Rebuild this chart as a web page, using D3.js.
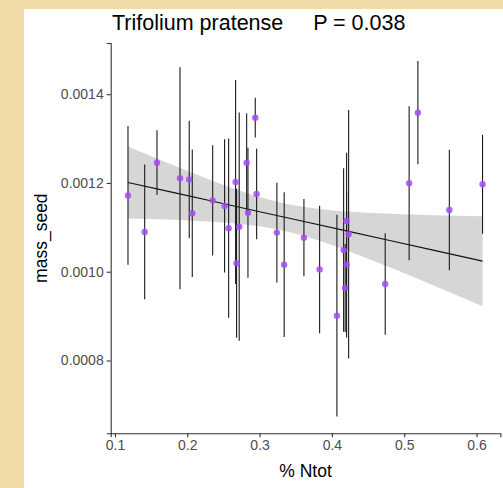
<!DOCTYPE html>
<html>
<head>
<meta charset="utf-8">
<script src="https://cdn.jsdelivr.net/npm/d3@7/dist/d3.min.js"></script>
<style>
  html, body { margin: 0; padding: 0; background: #f1dba9; }
  svg { display: block; }
  text { font-family: "Liberation Sans", Arial, sans-serif; }
</style>
</head>
<body>
<svg id="chart" width="503" height="488"></svg>
<script>
// Total nitrogen (%) per site
const nTot = [0.1180, 0.1411, 0.1581, 0.1899, 0.2027, 0.2069, 0.2351, 0.2516, 0.2572, 0.2668,
              0.2682, 0.2718, 0.2821, 0.2839, 0.2940, 0.2959, 0.3239, 0.3340, 0.3613, 0.3830,
              0.4069, 0.4162, 0.4203, 0.4203, 0.4184, 0.4231, 0.4737, 0.5068, 0.5189, 0.5624, 0.6083];
// Mean seed mass per site
const massSeed = [0.001172, 0.0010896, 0.0012457, 0.0012106, 0.0012079, 0.0011318, 0.0011606, 0.0011482, 0.001098, 0.0012023,
                  0.0010191, 0.0011016, 0.0012457, 0.0011331, 0.0013471, 0.0011752, 0.0010881, 0.001016, 0.0010768, 0.0010052,
                  0.0009011, 0.0010491, 0.0011144, 0.001016, 0.0009635, 0.0010845, 0.0009725, 0.0011993, 0.0013583, 0.0011392, 0.0011971];
// Half-length of each error bar
const massErr = [0.0001565, 0.0001517, 0.0000729, 0.00025, 0.0001324, 0.0001437, 0.0001242, 0.0001501, 0.0002019, 0.0002297,
                 0.0001681, 0.0002571, 0.0001113, 0.0001464, 0.0000446, 0.000102, 0.0001126, 0.000163, 0.000087, 0.0001437,
                 0.0002271, 0.0001843, 0.0001538, 0.0001644, 0.0000991, 0.00028, 0.0001144, 0.0001734, 0.0001163, 0.0001356, 0.0001115];

// Fitted linear trend and its 95% confidence band
const fitX  = [0.118, 0.18, 0.24, 0.30, 0.36, 0.42, 0.48, 0.54, 0.6083];
const fitY  = [0.0012011, 0.0011787, 0.0011570, 0.0011353, 0.0011136, 0.0010920, 0.0010703, 0.0010486, 0.0010239];
const fitLo = [0.0011200, 0.0011171, 0.0011122, 0.0011023, 0.0010811, 0.0010482, 0.0010099, 0.0009696, 0.0009225];
const fitHi = [0.0012822, 0.0012403, 0.0012018, 0.0011685, 0.0011462, 0.0011356, 0.0011306, 0.0011275, 0.0011252];

const xTicks = [0.1, 0.2, 0.3, 0.4, 0.5, 0.6];
const yTicks = [0.0008, 0.0010, 0.0012, 0.0014];
const titleText = "Trifolium pratense     P = 0.038";
const xTitle = "% Ntot";
const yTitle = "mass_seed";

const data = nTot.map((x, i) => ({ x, y: massSeed[i], e: massErr[i] }));
const fit = fitX.map((x, i) => ({ x, y: fitY[i], lo: fitLo[i], hi: fitHi[i] }));

const svg = d3.select("#chart");

// white panel on the textured page
svg.append("rect").attr("x", 24).attr("y", 9).attr("width", 479).attr("height", 479).attr("fill", "#ffffff");

const plot = { left: 110.7, right: 500.4, top: 43, bottom: 433.3 };

const x = d3.scaleLinear().domain([0.0941, 0.633]).range([plot.left, plot.right]);
const y = d3.scaleLinear().domain([0.000636, 0.0015153]).range([plot.bottom, plot.top]);

svg.append("path")
  .datum(fit)
  .attr("d", d3.area().curve(d3.curveNatural).x(d => x(d.x)).y0(d => y(d.lo)).y1(d => y(d.hi)))
  .attr("fill", "#999999").attr("fill-opacity", 0.4);

svg.append("path")
  .datum(fit)
  .attr("d", d3.line().x(d => x(d.x)).y(d => y(d.y)))
  .attr("fill", "none").attr("stroke", "#111").attr("stroke-width", 1.1);

// error bars
svg.append("g").selectAll("line").data(data).join("line")
  .attr("x1", d => x(d.x)).attr("x2", d => x(d.x))
  .attr("y1", d => y(d.y - d.e)).attr("y2", d => y(d.y + d.e))
  .attr("stroke", "#1a1a1a").attr("stroke-width", 1.1);

// points
svg.append("g").selectAll("circle").data(data).join("circle")
  .attr("cx", d => x(d.x)).attr("cy", d => y(d.y)).attr("r", 3.2)
  .attr("fill", "#a24cf5").attr("fill-opacity", 0.85);

// axes
const xAxis = svg.append("g").attr("transform", `translate(0,${plot.bottom})`)
  .call(d3.axisBottom(x).tickValues(xTicks).tickFormat(d3.format(".1f")).tickSizeOuter(0).tickSize(4).tickPadding(3));
const yAxis = svg.append("g").attr("transform", `translate(${plot.left},0)`)
  .call(d3.axisLeft(y).tickValues(yTicks).tickFormat(d3.format(".4f")).tickSizeOuter(0).tickSize(4).tickPadding(3));
[xAxis, yAxis].forEach(g => {
  g.select(".domain").attr("stroke", "#333").attr("stroke-width", 1.1);
  g.selectAll(".tick line").attr("stroke", "#333").attr("stroke-width", 1.1);
  g.selectAll(".tick text").attr("fill", "#4d4d4d").attr("font-size", 14)
    .attr("font-family", "'Liberation Sans', Arial, sans-serif");
});

svg.append("text")
  .attr("x", 112).attr("y", 29.5)
  .attr("font-size", 21.5).attr("fill", "#000")
  .style("white-space", "pre")
  .text(titleText);

svg.append("text")
  .attr("x", (plot.left + plot.right) / 2).attr("y", 477)
  .attr("text-anchor", "middle").attr("font-size", 17.5).attr("fill", "#000")
  .text(xTitle);

svg.append("text")
  .attr("transform", `translate(47,${(plot.top + plot.bottom) / 2}) rotate(-90)`)
  .attr("text-anchor", "middle").attr("font-size", 17.5).attr("fill", "#000")
  .text(yTitle);
</script>
</body>
</html>
